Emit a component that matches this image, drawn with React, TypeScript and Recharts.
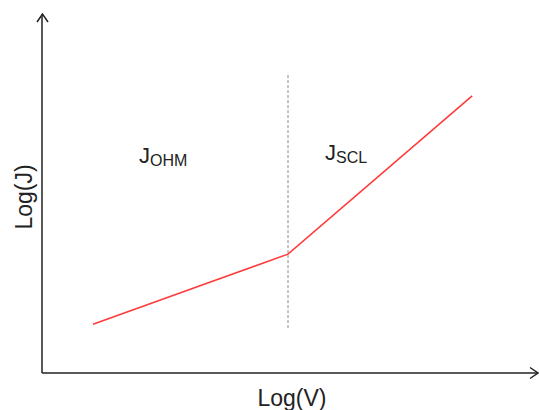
import React from 'react'
import {
  ComposedChart,
  Line,
  XAxis,
  YAxis,
  ReferenceLine,
} from 'recharts'

// Schematic J-V curve on log-log axes (arbitrary units 0..100)
const logV = [10.3, 49.7, 86.9]
const logJ = [13.6, 33.1, 77.2]
const crossover = 49.7
const dashedSpan = [12.5, 83.6]
const xLabel = 'Log(V)'
const yLabel = 'Log(J)'

const data = logV.map((v, i) => ({ v, j: logJ[i] }))

const W = 539
const H = 410
const M = { top: 14, right: 2, bottom: 36, left: 41 }

export default function App() {
  const font = '"Liberation Sans", Arial, sans-serif'
  const axisColor = '#222'

  return (
    <div style={{ position: 'absolute', left: 0, top: 0, width: W, height: H, background: '#fff' }}>
      <ComposedChart width={W} height={H} data={data} margin={M}>
        <XAxis
          type="number"
          dataKey="v"
          domain={[0, 100]}
          height={1}
          tick={false}
          tickLine={false}
          axisLine={{ stroke: axisColor, strokeWidth: 1.5 }}
        />
        <YAxis
          type="number"
          dataKey="j"
          domain={[0, 100]}
          width={1}
          tick={false}
          tickLine={false}
          axisLine={{ stroke: axisColor, strokeWidth: 1.5 }}
        />
        <ReferenceLine
          segment={[
            { x: crossover, y: dashedSpan[0] },
            { x: crossover, y: dashedSpan[1] },
          ]}
          stroke="#888"
          strokeWidth={1}
          strokeDasharray="3 2"
        />
        <Line
          dataKey="j"
          stroke="#ff3b3b"
          strokeWidth={1.6}
          dot={false}
          isAnimationActive={false}
        />
      </ComposedChart>

      {/* arrowheads and annotations */}
      <svg
        width={W}
        height={H}
        style={{ position: 'absolute', left: 0, top: 0, pointerEvents: 'none' }}
      >
        <polyline points="37,22 42.5,14 48,22" fill="none" stroke={axisColor} strokeWidth={1.5} />
        <polyline points="530,367.5 538,373 530,378.5" fill="none" stroke={axisColor} strokeWidth={1.5} />

        <text x={139} y={163} fontFamily={font} fontSize={22} fill="#222">
          J<tspan fontSize={16} dy={3}>OHM</tspan>
        </text>
        <text x={325} y={160} fontFamily={font} fontSize={22} fill="#222">
          J<tspan fontSize={16} dy={3}>SCL</tspan>
        </text>

        <text x={292} y={406} textAnchor="middle" fontFamily={font} fontSize={23} fill="#222">
          {xLabel}
        </text>
        <text
          x={0}
          y={0}
          textAnchor="middle"
          fontFamily={font}
          fontSize={23}
          fill="#222"
          transform="translate(32,197) rotate(-90)"
        >
          {yLabel}
        </text>
      </svg>
    </div>
  )
}
